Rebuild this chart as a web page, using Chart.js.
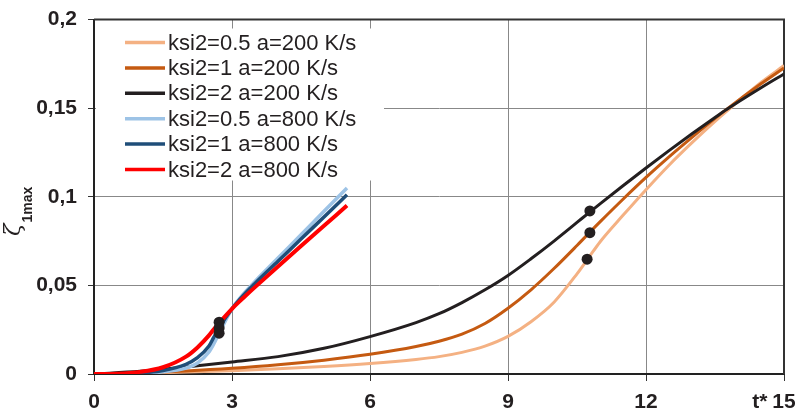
<!DOCTYPE html>
<html>
<head>
<meta charset="utf-8">
<script src="https://cdn.jsdelivr.net/npm/chart.js@4/dist/chart.umd.min.js"></script>
<style>
  html, body { margin: 0; padding: 0; background: #fff; }
</style>
</head>
<body>
<canvas id="c" width="795" height="415"></canvas>
<script>
// Dimensionless time t* for the slow (200 K/s) and fast (800 K/s) heating runs
const t200 = [0, 1, 2, 3, 4, 5, 6, 7, 7.5, 8, 8.5, 9, 9.5, 10, 10.5, 10.75, 11, 11.5, 12, 12.5, 13, 13.5, 13.75, 14.5, 15];
const t800 = [0, 0.5, 1, 1.5, 2, 2.25, 2.5, 2.6, 2.72, 3, 3.25, 3.5, 4, 4.5, 5, 5.5];

// zeta_1max for a = 200 K/s
const ksi05_a200 = [0, 0.0004, 0.0011, 0.0019, 0.0029, 0.0042, 0.0059, 0.0082, 0.0098, 0.0122, 0.0157, 0.0212, 0.0295, 0.0405, 0.0565, 0.0655, 0.0745, 0.0895, 0.1040, 0.1178, 0.1305, 0.1425, 0.1482, 0.1645, 0.1740];
const ksi1_a200  = [0, 0.0006, 0.0017, 0.0032, 0.0052, 0.0078, 0.0111, 0.0155, 0.0185, 0.0225, 0.0285, 0.0371, 0.0475, 0.0595, 0.0725, 0.0792, 0.0858, 0.0986, 0.1109, 0.1225, 0.1335, 0.1442, 0.1493, 0.1637, 0.1727];
const ksi2_a200  = [0, 0.0015, 0.0040, 0.0068, 0.0098, 0.0145, 0.0211, 0.0290, 0.0340, 0.0403, 0.0475, 0.0556, 0.0650, 0.0750, 0.0855, 0.0908, 0.0960, 0.1062, 0.1162, 0.1260, 0.1355, 0.1447, 0.1492, 0.1615, 0.1693];

// zeta_1max for a = 800 K/s
const ksi05_a800 = [0, 0.0001, 0.0004, 0.0012, 0.0034, 0.0062, 0.0125, 0.0168, 0.0230, 0.0368, 0.0452, 0.0522, 0.0654, 0.0786, 0.0918, 0.1049];
const ksi1_a800  = [0, 0.0001, 0.0006, 0.0019, 0.0055, 0.0092, 0.0158, 0.0205, 0.0260, 0.0368, 0.0445, 0.0511, 0.0636, 0.0761, 0.0886, 0.1011];
const ksi2_a800  = [0, 0.0002, 0.0012, 0.0038, 0.0098, 0.0150, 0.0218, 0.0251, 0.0288, 0.0368, 0.0430, 0.0490, 0.0607, 0.0722, 0.0836, 0.0950];

// Marked points on the curves
const markT   = [2.72, 2.72, 2.72, 10.78, 10.78, 10.72];
const markVal = [0.0292, 0.026, 0.023, 0.092, 0.0797, 0.0648];

const seriesNames = [
  'ksi2=0.5 a=200 K/s', 'ksi2=1 a=200 K/s', 'ksi2=2 a=200 K/s',
  'ksi2=0.5 a=800 K/s', 'ksi2=1 a=800 K/s', 'ksi2=2 a=800 K/s'
];
const xTickLabels = ['0', '3', '6', '9', '12', '15'];
const yTickLabels = ['0', '0,05', '0,1', '0,15', '0,2'];
const xAxisName = 't*';
const yAxisSymbol = '\u03B6';
const yAxisSub = '1max';

const colors = ['#F4B183', '#C55A11', '#231F20', '#9DC3E6', '#1F4E79', '#FF0000'];
const widths = [3, 3, 3, 3.5, 3.5, 4];

const pts = (xs, ys) => xs.map((x, i) => ({ x: x, y: ys[i] }));
const curves = [
  pts(t200, ksi05_a200), pts(t200, ksi1_a200), pts(t200, ksi2_a200),
  pts(t800, ksi05_a800), pts(t800, ksi1_a800), pts(t800, ksi2_a800)
];

const datasets = curves.map((d, i) => ({
  label: seriesNames[i],
  data: d,
  borderColor: colors[i],
  backgroundColor: colors[i],
  borderWidth: widths[i],
  pointRadius: 0,
  showLine: true,
  fill: false,
  cubicInterpolationMode: 'monotone',
  order: 6 - i
}));
datasets.push({
  label: 'marks',
  data: pts(markT, markVal),
  showLine: false,
  pointRadius: 5.5,
  pointBackgroundColor: '#231F20',
  pointBorderColor: '#231F20',
  pointBorderWidth: 0,
  order: 0
});

const FONT = "'Liberation Sans', Arial, sans-serif";
const TEXT = '#231F20';

// Frame around the plot area
const framePlugin = {
  id: 'frame',
  beforeDatasetsDraw(chart) {
    const { ctx, chartArea: a } = chart;
    ctx.save();
    ctx.strokeStyle = '#333';
    ctx.lineWidth = 2;
    ctx.beginPath();
    ctx.moveTo(a.left, a.top);
    ctx.lineTo(a.right, a.top);
    ctx.lineTo(a.right, a.bottom);
    ctx.stroke();
    ctx.restore();
  }
};

// Boxed legend in the upper-left corner of the plot
const legendPlugin = {
  id: 'boxLegend',
  afterDatasetsDraw(chart) {
    const { ctx, chartArea: a } = chart;
    ctx.save();
    ctx.fillStyle = '#fff';
    ctx.fillRect(a.left + 2, a.top + 9, 288, 152);
    ctx.font = '22px ' + FONT;
    ctx.textBaseline = 'middle';
    ctx.textAlign = 'left';
    for (let i = 0; i < seriesNames.length; i++) {
      const y = a.top + 23 + i * 25.4;
      ctx.strokeStyle = colors[i];
      ctx.lineWidth = 3.5;
      ctx.beginPath();
      ctx.moveTo(a.left + 31, y);
      ctx.lineTo(a.left + 71, y);
      ctx.stroke();
      ctx.fillStyle = TEXT;
      ctx.fillText(chart.data.datasets[i].label, a.left + 74, y + 1);
    }
    ctx.restore();
  }
};

// Axis names: rotated zeta_1max on the left, t* next to the last x tick
const axisNamePlugin = {
  id: 'axisNames',
  afterDraw(chart) {
    const { ctx } = chart;
    ctx.save();
    ctx.fillStyle = TEXT;
    ctx.translate(20, 236);
    ctx.rotate(-Math.PI / 2);
    ctx.textBaseline = 'alphabetic';
    ctx.textAlign = 'left';
    ctx.font = 'italic 23px "DejaVu Serif", serif';
    ctx.fillText(yAxisSymbol, 0, 0);
    const w = ctx.measureText(yAxisSymbol).width;
    ctx.font = 'bold 14px ' + FONT;
    ctx.fillText(yAxisSub, w + 1, 12);
    ctx.restore();

    const xs = chart.scales.x;
    const items = xs.getLabelItems();
    const last = items[items.length - 1];
    if (last) {
      ctx.save();
      ctx.font = 'bold 21px ' + FONT;
      const half = ctx.measureText(String(last.label)).width / 2;
      ctx.fillStyle = TEXT;
      ctx.textAlign = 'right';
      ctx.textBaseline = last.options.textBaseline || 'middle';
      ctx.fillText(xAxisName, last.options.translation[0] - half - 5, last.options.translation[1] + (last.textOffset || 0));
      ctx.restore();
    }
  }
};

new Chart(document.getElementById('c'), {
  type: 'scatter',
  data: { datasets: datasets },
  options: {
    responsive: false,
    animation: false,
    devicePixelRatio: 1,
    layout: { padding: { left: 36, right: 11, top: 19.5, bottom: 0 } },
    plugins: { legend: { display: false }, tooltip: { enabled: false } },
    scales: {
      x: {
        type: 'linear', min: 0, max: 15,
        afterFit: (s) => { s.height = 41; s.paddingLeft = 0; s.paddingRight = 0; },
        ticks: {
          stepSize: 3, maxRotation: 0, padding: 9, color: TEXT,
          font: { family: FONT, size: 21, weight: 'bold' },
          callback: (v, i) => xTickLabels[i]
        },
        grid: { color: '#888', lineWidth: 1, tickLength: 7, tickColor: '#333' },
        border: { color: '#222', width: 2 }
      },
      y: {
        min: 0, max: 0.2,
        afterFit: (s) => { s.width = 58; s.paddingTop = 0; s.paddingBottom = 0; },
        ticks: {
          stepSize: 0.05, padding: 11, color: TEXT,
          font: { family: FONT, size: 21, weight: 'bold' },
          callback: (v, i) => yTickLabels[i]
        },
        grid: { color: '#888', lineWidth: 1, tickLength: 6, tickColor: '#333' },
        border: { color: '#222', width: 2 }
      }
    }
  },
  plugins: [framePlugin, legendPlugin, axisNamePlugin]
});
</script>
</body>
</html>
